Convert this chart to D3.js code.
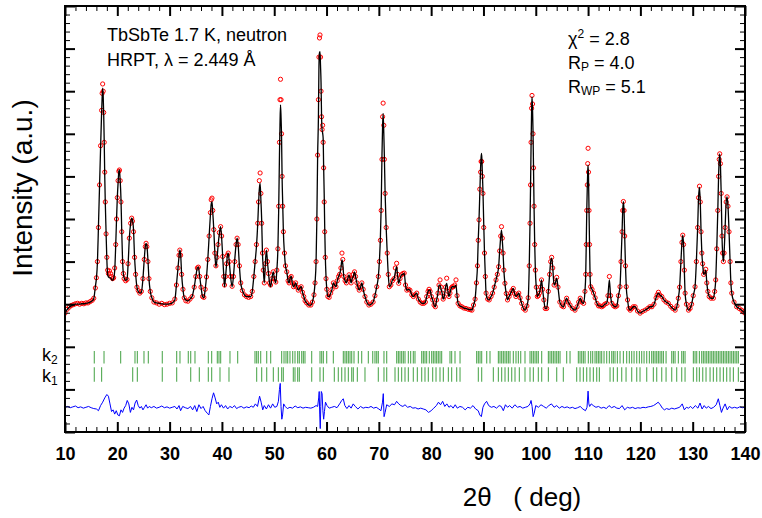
<!DOCTYPE html>
<html>
<head>
<meta charset="utf-8">
<script src="https://cdn.jsdelivr.net/npm/d3@7"></script>
<style>
  body { margin: 0; background: #fff; }
  text { font-family: "Liberation Sans", Arial, sans-serif; }
</style>
</head>
<body>
<svg id="chart" width="762" height="518"></svg>
<script>
// 2theta grid of the refinement (deg), observed and calculated intensity (a.u.)
const twoTheta = [
  10, 10.4, 10.8, 11.2, 11.6, 12, 12.4, 12.8, 13.2, 13.6, 14, 14.4, 14.8, 15.2, 15.5,
  15.8, 16, 16.2, 16.4, 16.6, 16.8, 17, 17.1, 17.2, 17.3, 17.4, 17.5, 17.6, 17.7, 17.85, 18, 18.15, 18.3,
  18.5, 18.7, 18.9, 19.1, 19.3, 19.5, 19.7, 19.85, 20, 20.15, 20.3, 20.4, 20.55, 20.7, 20.85, 21, 21.15, 21.3,
  21.6, 21.85, 22.05, 22.3, 22.55, 22.75, 22.9, 23.1, 23.3, 23.5, 23.75, 24, 24.3, 24.6, 24.9, 25.15, 25.35, 25.5, 25.65, 25.85, 26.05,
  26.3, 26.6, 27, 27.5, 28, 28.5, 29, 29.5, 30, 30.5, 31, 31.3, 31.6, 31.8, 31.95, 32.1, 32.3, 32.55, 32.8, 33.1,
  33.5, 33.9, 34.3, 34.7, 35, 35.3, 35.5, 35.75, 36, 36.3, 36.55, 36.8, 37.05, 37.3, 37.55, 37.8, 37.95, 38.1, 38.25, 38.45, 38.65, 38.85, 39.05, 39.25, 39.5, 39.75, 39.95, 40.15, 40.35, 40.5, 40.7, 40.9, 41.05,
  41.2, 41.4, 41.65, 41.95, 42.2, 42.45, 42.7, 42.9, 43.1, 43.35, 43.6, 43.9, 44.3, 44.7, 45.1, 45.5, 45.8, 46.1, 46.35, 46.6, 46.85, 47, 47.15, 47.3, 47.45, 47.6, 47.75, 47.9,
  48.1, 48.3, 48.5, 48.7, 48.9, 49.1, 49.3, 49.55, 49.8, 50.05, 50.3, 50.5, 50.7, 50.85, 51, 51.1, 51.2, 51.3, 51.4, 51.5, 51.62, 51.75, 51.95, 52.15,
  52.4, 52.65, 52.85, 53.05, 53.25, 53.45, 53.7, 53.9, 54.1, 54.35, 54.6, 54.9, 55.15, 55.4, 55.65, 55.9, 56.2, 56.6, 57, 57.3, 57.6, 57.8, 58, 58.15, 58.3,
  58.45, 58.55, 58.65, 58.75, 58.85, 58.95, 59.05, 59.15, 59.25, 59.35, 59.45, 59.55, 59.65, 59.75, 59.9, 60.05,
  60.25, 60.5, 60.8, 61.05, 61.3, 61.55, 61.8, 62.05, 62.3, 62.5, 62.75, 62.95, 63.1, 63.3, 63.55, 63.8, 64.05, 64.3, 64.5, 64.7, 64.9, 65.1, 65.35, 65.55, 65.8, 66,
  66.25, 66.5, 66.75, 67, 67.35, 67.7, 68.1, 68.5, 68.9, 69.25, 69.6, 69.9, 70.1, 70.3, 70.45, 70.6, 70.72, 70.82, 70.95, 71.05, 71.2, 71.4, 71.6, 71.8, 72,
  72.3, 72.6, 72.9, 73.15, 73.4, 73.6, 73.8, 74.05, 74.35, 74.6, 74.85, 75.1, 75.35, 75.65, 75.95, 76.3, 76.6, 76.9, 77.25, 77.55, 77.9, 78.25, 78.6, 78.9, 79.15, 79.4, 79.6, 79.8,
  80.05, 80.3, 80.55, 80.8, 81.05, 81.3, 81.5, 81.7, 81.9, 82.1, 82.3, 82.5, 82.75, 82.97, 83.2, 83.4, 83.6, 83.85, 84.05, 84.25, 84.5, 84.75, 84.95, 85.15, 85.5, 85.85, 86.25, 86.65, 87.1, 87.5, 87.8,
  88.1, 88.4, 88.65, 88.85, 89, 89.15, 89.3, 89.45, 89.55, 89.66, 89.78, 89.9, 90.05, 90.2, 90.35, 90.5, 90.8, 91.1, 91.45, 91.75, 92.05, 92.4, 92.65, 92.9, 93.1, 93.3, 93.45, 93.6, 93.75, 93.9, 94.1,
  94.35, 94.6, 94.9, 95.2, 95.45, 95.7, 95.95, 96.2, 96.5, 96.75, 97, 97.3, 97.65, 98, 98.3, 98.55, 98.75, 98.9, 99, 99.1, 99.2, 99.28, 99.38, 99.47, 99.57, 99.67, 99.8, 99.92, 100.1,
  100.3, 100.5, 100.7, 100.9, 101.1, 101.3, 101.55, 101.8, 102.1, 102.4, 102.65, 102.85, 103.04, 103.25, 103.5, 103.75, 104, 104.25, 104.6, 105, 105.3, 105.6, 105.9, 106.2, 106.55, 107, 107.5,
  107.9, 108.2, 108.5, 108.8, 109.15, 109.4, 109.55, 109.65, 109.75, 109.85, 109.93, 110, 110.08, 110.18, 110.28, 110.38, 110.5, 110.75, 111.05, 111.35, 111.7, 112, 112.3, 112.6, 112.9, 113.2, 113.55, 113.8,
  114.07, 114.3, 114.55, 114.9, 115.2, 115.5, 115.8, 116.1, 116.3, 116.5, 116.62, 116.75, 116.88, 117, 117.15, 117.3, 117.55, 117.8, 118.05, 118.35, 118.65, 119, 119.45, 119.95, 120.4, 120.9, 121.4, 121.8, 122.2, 122.6,
  123, 123.2, 123.45, 123.7, 124.1, 124.5, 124.9, 125.35, 125.8, 126.2, 126.65, 127, 127.25, 127.5, 127.75, 127.95, 128.1, 128.25, 128.4, 128.55, 128.8, 129.2, 129.5, 129.8, 130.1,
  130.45, 130.7, 130.95, 131.12, 131.3, 131.45, 131.6, 131.75, 131.9, 132.1, 132.3, 132.5, 132.7, 132.9, 133.15, 133.5, 133.95, 134.2, 134.4,
  134.6, 134.8, 134.95, 135.07, 135.17, 135.3, 135.45, 135.6, 135.72, 135.87, 136, 136.2, 136.4, 136.57, 136.75, 136.95, 137.15, 137.3, 137.47, 137.9, 138.4, 138.9, 139.35, 139.7, 140
];

const yObs = [
  279, 288, 293, 297, 299, 301, 302, 300, 302, 301, 303, 303, 306, 309, 314,
  338, 362, 400, 480, 580, 672, 755, 795, 817, 800, 750, 680, 610, 540, 465, 410, 380, 372,
  378, 372, 365, 360, 362, 385, 440, 500, 550, 590, 612, 615, 590, 540, 470, 400, 372, 360,
  355, 358, 395, 455, 490, 502, 495, 470, 410, 370, 340, 332, 326, 330, 360, 405, 435, 443, 435, 400, 360,
  330, 315, 305, 303, 300, 302, 299, 300, 302, 303, 312, 345, 385, 415, 427, 415, 370, 335, 315, 308,
  307, 312, 318, 340, 365, 385, 387, 365, 340, 318, 316, 335, 364, 405, 460, 515, 545, 549, 520, 475, 420, 390, 410, 440, 468, 482, 460, 412, 365, 345, 365, 395, 415,
  420, 400, 365, 342, 365, 400, 440, 455, 440, 390, 350, 332, 322, 318, 316, 318, 330, 365, 400, 440, 490, 540, 590, 608, 560, 490, 420, 380,
  350, 395, 427, 400, 372, 350, 345, 360, 376, 360, 352, 380, 430, 530, 680, 780, 828, 780, 700, 600, 530, 470, 420, 390,
  376, 355, 350, 362, 365, 350, 341, 345, 350, 340, 333, 338, 341, 328, 318, 308, 303, 298, 298, 305, 322, 350, 400, 500, 650,
  780, 880, 925, 932, 880, 800, 740, 710, 720, 680, 620, 540, 470, 410, 360, 335,
  318, 316, 326, 335, 350, 345, 341, 355, 365, 370, 385, 420, 405, 365, 355, 350, 360, 369, 360, 350, 360, 370, 376, 365, 350, 340,
  333, 340, 350, 335, 318, 305, 298, 300, 305, 320, 341, 365, 400, 450, 520, 640, 740, 772, 720, 640, 560, 480, 420, 370, 341,
  345, 355, 360, 385, 396, 370, 349, 360, 369, 372, 373, 345, 333, 335, 333, 322, 318, 322, 326, 312, 305, 302, 302, 305, 318, 330, 335, 330,
  318, 310, 298, 294, 310, 326, 345, 357, 340, 326, 312, 318, 340, 361, 330, 318, 326, 338, 341, 341, 345, 357, 320, 302, 296, 294, 291, 290, 288, 287, 286,
  298, 312, 350, 390, 450, 498, 570, 610, 635, 635, 600, 560, 480, 420, 365, 326, 312, 310, 318, 326, 340, 357, 370, 388, 425, 460, 482, 455, 420, 380, 349,
  325, 310, 318, 326, 332, 337, 325, 318, 322, 326, 315, 302, 290, 286, 296, 315, 390, 490, 580, 680, 760, 790, 770, 700, 620, 530, 440, 380, 340,
  318, 320, 326, 340, 357, 335, 310, 290, 290, 330, 370, 400, 410, 385, 345, 352, 363, 340, 305, 296, 294, 305, 314, 305, 298, 290, 286,
  294, 305, 314, 305, 302, 330, 370, 440, 520, 580, 630, 666, 610, 520, 440, 370, 341, 335, 326, 315, 302, 296, 296, 294, 296, 300, 302, 320,
  365, 320, 302, 296, 294, 296, 320, 341, 400, 470, 520, 541, 520, 460, 390, 341, 310, 290, 286, 290, 294, 294, 284, 279, 283, 286, 290, 294, 294, 300,
  315, 322, 328, 322, 318, 310, 305, 302, 295, 290, 286, 296, 314, 340, 400, 445, 462, 440, 380, 326, 300, 286, 290, 300, 320,
  341, 400, 480, 550, 577, 540, 470, 420, 395, 370, 375, 382, 350, 330, 318, 314, 314, 330, 357,
  430, 520, 600, 640, 653, 630, 560, 460, 420, 400, 420, 480, 540, 552, 530, 470, 400, 350, 326, 305, 294, 290, 286, 282, 279
];

const yCalc = [
  279, 287, 293, 296, 298, 300, 300, 300, 301, 301, 302, 303, 305, 308, 313,
  341, 360, 398, 485, 575, 665, 750, 785, 807, 790, 745, 680, 600, 540, 470, 405, 370, 364,
  362, 362, 358, 356, 360, 378, 440, 498, 550, 585, 612, 615, 590, 548, 470, 405, 372, 362,
  356, 358, 390, 455, 490, 502, 498, 474, 410, 372, 340, 330, 326, 328, 360, 405, 435, 443, 438, 405, 360,
  330, 315, 305, 303, 302, 301, 300, 300, 301, 303, 310, 345, 385, 412, 427, 418, 370, 335, 315, 310,
  308, 312, 318, 340, 364, 385, 387, 365, 341, 318, 315, 335, 364, 405, 458, 510, 535, 541, 515, 474, 420, 387, 405, 435, 465, 482, 455, 411, 368, 341, 365, 395, 415,
  420, 400, 365, 341, 365, 404, 440, 455, 440, 388, 350, 333, 322, 318, 318, 318, 330, 365, 400, 435, 490, 535, 570, 584, 545, 498, 420, 385,
  350, 395, 427, 400, 373, 350, 341, 360, 376, 360, 350, 380, 430, 520, 650, 720, 768, 740, 693, 600, 537, 470, 420, 390,
  376, 355, 350, 362, 365, 350, 341, 345, 350, 340, 333, 338, 341, 328, 318, 308, 303, 298, 298, 305, 324, 350, 400, 500, 650,
  740, 860, 890, 893, 860, 820, 740, 709, 702, 690, 620, 560, 482, 420, 365, 335,
  318, 318, 326, 335, 350, 345, 341, 355, 365, 370, 385, 404, 395, 365, 355, 350, 360, 369, 360, 350, 360, 365, 376, 365, 350, 340,
  333, 340, 350, 335, 318, 305, 298, 300, 305, 320, 341, 365, 400, 458, 530, 650, 720, 748, 700, 650, 560, 480, 420, 370, 341,
  345, 357, 360, 375, 388, 365, 349, 360, 369, 370, 373, 345, 333, 335, 333, 322, 318, 322, 326, 312, 306, 302, 302, 305, 318, 330, 333, 333,
  318, 310, 298, 294, 310, 326, 345, 345, 335, 326, 312, 318, 340, 349, 330, 318, 326, 338, 341, 341, 340, 345, 320, 302, 296, 294, 291, 290, 288, 287, 287,
  298, 312, 350, 388, 450, 498, 560, 620, 645, 654, 610, 568, 490, 420, 370, 326, 312, 310, 318, 326, 340, 357, 370, 388, 425, 458, 474, 450, 420, 380, 349,
  325, 310, 318, 326, 332, 337, 325, 318, 322, 326, 315, 302, 290, 286, 296, 312, 388, 490, 575, 670, 750, 787, 760, 709, 620, 529, 440, 380, 340,
  318, 322, 326, 340, 357, 335, 310, 290, 290, 330, 370, 400, 408, 385, 345, 350, 361, 340, 305, 296, 294, 305, 314, 305, 298, 290, 286,
  294, 305, 314, 305, 302, 330, 370, 440, 520, 575, 610, 627, 600, 520, 440, 370, 341, 335, 326, 315, 302, 296, 296, 294, 296, 300, 302, 320,
  357, 320, 302, 296, 294, 296, 320, 341, 400, 470, 520, 541, 520, 460, 390, 341, 310, 290, 286, 290, 294, 294, 284, 279, 283, 286, 290, 294, 294, 300,
  315, 322, 326, 322, 318, 310, 305, 302, 295, 290, 286, 296, 314, 340, 400, 445, 462, 440, 380, 326, 300, 286, 290, 300, 320,
  341, 400, 480, 550, 575, 540, 470, 420, 395, 370, 372, 380, 350, 330, 318, 314, 314, 330, 357,
  430, 520, 600, 640, 653, 630, 560, 460, 420, 400, 420, 480, 540, 552, 530, 470, 400, 350, 326, 305, 294, 290, 286, 282, 279
];

// difference curve (obs - calc, plotted with an offset)
const diffTth = [
  10, 10.5, 11, 11.5, 12, 12.5, 13, 13.5, 14, 14.5,
  15, 15.5, 16, 16.4, 16.8, 17.2, 17.6, 18, 18.3, 18.6,
  18.9, 19.2, 19.5, 19.8, 20.1, 20.4, 20.7, 21, 21.3, 21.6,
  21.9, 22.2, 22.5, 22.8, 23.1, 23.4, 23.7, 24, 24.3, 24.6,
  24.9, 25.2, 25.5, 25.8, 26.1, 26.5, 27, 27.5, 28, 28.5,
  29, 29.5, 30, 30.5, 31, 31.4, 31.8, 32.1, 32.5, 33,
  33.5, 34, 34.4, 34.8, 35.2, 35.6, 36, 36.4, 36.8, 37.2,
  37.5, 37.8, 38.1, 38.4, 38.7, 39, 39.3, 39.6, 39.9, 40.3,
  40.7, 41.1, 41.5, 42, 42.4, 42.8, 43.2, 43.7, 44.2, 44.7,
  45.2, 45.6, 46, 46.4, 46.8, 47.2, 47.5, 47.8, 48.1, 48.5,
  48.9, 49.3, 49.7, 50.1, 50.5, 50.8, 51, 51.15, 51.3, 51.45,
  51.6, 51.8, 52.1, 52.5, 53, 53.5, 54, 54.5, 55, 55.5,
  56, 56.5, 57, 57.5, 58, 58.3, 58.5, 58.6, 58.7, 58.8,
  58.9, 59, 59.15, 59.3, 59.45, 59.6, 59.8, 60.1, 60.5, 61,
  61.5, 62, 62.5, 62.9, 63.2, 63.5, 63.9, 64.3, 64.7, 65.1,
  65.5, 66, 66.5, 67, 67.5, 68, 68.5, 69, 69.5, 70,
  70.4, 70.7, 70.85, 71, 71.2, 71.5, 72, 72.5, 73, 73.4,
  73.8, 74.2, 74.6, 75, 75.5, 76, 76.5, 77, 77.5, 78,
  78.5, 79, 79.5, 80, 80.5, 81, 81.4, 81.8, 82.2, 82.6,
  83, 83.4, 83.8, 84.2, 84.6, 85, 85.5, 86, 86.5, 87,
  87.5, 88, 88.5, 89, 89.3, 89.6, 89.9, 90.2, 90.6, 91,
  91.5, 92, 92.5, 93, 93.4, 93.8, 94.2, 94.6, 95, 95.5,
  96, 96.5, 97, 97.5, 98, 98.5, 98.9, 99.1, 99.3, 99.5,
  99.7, 100, 100.5, 101, 101.5, 102, 102.5, 103, 103.5, 104,
  104.5, 105, 105.5, 106, 106.5, 107, 107.5, 108, 108.5, 109,
  109.5, 109.8, 110, 110.15, 110.3, 110.6, 111, 111.5, 112, 112.5,
  113, 113.5, 114, 114.5, 115, 115.5, 116, 116.5, 117, 117.5,
  118, 118.5, 119, 119.5, 120, 120.5, 121, 121.5, 122, 122.5,
  123, 123.4, 123.8, 124.2, 124.6, 125, 125.5, 126, 126.5, 127,
  127.5, 128, 128.4, 128.8, 129.2, 129.6, 130, 130.5, 131, 131.4,
  131.8, 132.2, 132.6, 133, 133.5, 134, 134.5, 134.9, 135.2, 135.5,
  135.8, 136.2, 136.6, 137, 137.5, 138, 138.5, 139, 139.5, 140
];

const diffI = [
  58, 60, 57, 59, 61, 57, 59, 56, 58, 60,
  57, 55, 54, 50, 62, 70, 80, 88, 84, 66,
  48, 52, 42, 50, 40, 38, 52, 46, 56, 62,
  74, 66, 46, 58, 52, 68, 75, 62, 56, 60,
  52, 58, 64, 56, 60, 57, 60, 56, 58, 61,
  57, 59, 56, 58, 60, 54, 62, 50, 60, 57,
  55, 60, 52, 62, 48, 64, 55, 60, 50, 44,
  40, 60, 78, 92, 80, 66, 70, 58, 64, 56,
  62, 54, 60, 57, 62, 55, 58, 60, 56, 59,
  57, 61, 58, 66, 60, 84, 70, 52, 62, 54,
  64, 56, 66, 58, 60, 72, 100, 114, 60, 30,
  40, 66, 60, 55, 58, 56, 61, 57, 59, 56,
  58, 57, 56, 58, 62, 60, 80, 95, 40, 8,
  60, 95, 90, 50, 30, 48, 70, 62, 56, 58,
  60, 57, 66, 74, 78, 62, 55, 62, 56, 66,
  60, 54, 60, 56, 58, 57, 60, 56, 58, 54,
  50, 70, 90, 36, 46, 64, 60, 66, 64, 72,
  66, 62, 60, 64, 58, 60, 56, 57, 54, 56,
  54, 52, 46, 50, 56, 62, 70, 64, 72, 60,
  66, 58, 62, 56, 64, 56, 60, 58, 52, 58,
  56, 62, 54, 50, 40, 36, 58, 66, 72, 62,
  58, 60, 56, 62, 60, 50, 64, 58, 62, 56,
  64, 58, 60, 56, 58, 60, 66, 74, 60, 36,
  44, 62, 58, 64, 60, 56, 62, 66, 58, 62,
  56, 60, 57, 59, 56, 58, 55, 57, 60, 54,
  50, 58, 96, 66, 60, 66, 62, 58, 60, 56,
  58, 55, 62, 57, 60, 56, 55, 62, 52, 58,
  56, 58, 55, 57, 56, 58, 57, 59, 60, 62,
  66, 70, 64, 56, 52, 55, 53, 56, 54, 56,
  58, 66, 52, 58, 56, 60, 55, 62, 56, 68,
  54, 62, 56, 60, 55, 58, 64, 78, 62, 46,
  56, 66, 52, 60, 56, 58, 56, 59, 57, 58
];

// Bragg reflection positions of the two propagation vectors (deg)
const k2Pos = [
  15.6, 17.46, 20.64, 23.38, 23.83, 25.1, 25.93, 28.6, 31.35, 31.98, 33.57, 34.03, 34.85, 37.4, 38.04, 39.12, 39.44, 39.76,
  41.54, 43.01, 46.32, 46.64, 46.96, 47.41, 48.56, 49.32, 51.42, 51.87, 52.25, 52.57, 53.01, 53.53, 53.97, 54.48, 54.8,
  55.25, 55.57, 55.88, 57.16, 58.75, 59.07, 59.39, 60.03, 61.3, 63.21, 63.53, 63.85, 64.17, 64.49, 64.81, 65.25, 66.08,
  66.72, 67.99, 68.83, 69.26, 69.59, 69.9, 70.98, 71.5, 73.41, 73.73, 74.04, 74.36, 74.68, 75, 75.64, 76.08, 76.59, 76.91,
  78.19, 78.51, 78.82, 79.14, 79.65, 80.1, 80.42, 80.74, 81.05, 81.37, 81.69, 82.01, 83.6, 83.92, 84.56, 85.52, 88.7,
  89.02, 89.34, 89.66, 90.62, 91.25, 92.85, 93.16, 93.48, 93.8, 94.12, 94.44, 94.76, 95.08, 95.71, 96.22, 96.67, 97.12,
  97.94, 98.9, 99.22, 99.54, 99.86, 100.18, 100.49, 101.13, 102.41, 102.72, 103.04, 103.36, 103.68, 104, 104.32, 104.64,
  105.91, 106.55, 108.14, 108.46, 108.78, 109.1, 109.42, 110.05, 110.5, 110.88, 111.33, 111.65, 111.97, 112.28, 112.6,
  113.05, 113.56, 114.07, 114.52, 114.83, 115.15, 115.6, 116.11, 116.75, 117.38, 117.89, 118.34, 118.79, 119.3, 119.81,
  120.25, 120.7, 121.21, 121.72, 122.16, 122.48, 122.8, 123.12, 123.44, 123.76, 124.08, 124.4, 124.91, 125.99, 126.31,
  126.63, 127.26, 127.9, 128.22, 128.54, 130.13, 130.45, 130.77, 131.28, 131.72, 132.04, 132.36, 132.68, 133, 133.32,
  133.64, 133.95, 134.27, 134.59, 134.91, 135.23, 135.55, 135.87, 136.19, 136.5, 136.82, 137.14, 137.46, 137.78, 138.1,
  138.42, 138.73
];

const k1Pos = [
  15.6, 17, 22.94, 23.83, 28.6, 31.35, 34.03, 35.68, 37.4, 38.04, 39.63, 41.35, 46.64, 47.6, 48.56, 49.83, 50.79, 51.42,
  51.74, 53.65, 53.97, 54.48, 54.8, 57.16, 58.75, 59.39, 61.49, 62.25, 62.9, 63.53, 64.17, 64.81, 65.12, 65.89, 67.35,
  69.9, 70.98, 71.5, 73.09, 73.73, 74.36, 75, 75.64, 76.59, 77.36, 78.19, 78.82, 79.46, 80.29, 80.93, 81.69, 82.33,
  83.29, 83.92, 84.88, 85.52, 89.02, 89.66, 91.89, 92.85, 93.48, 94.12, 94.76, 95.4, 96.03, 96.86, 97.94, 98.9, 99.54,
  100.49, 101.13, 102.41, 104, 105.27, 107.82, 108.46, 109.1, 109.74, 110.37, 111.01, 111.65, 112.16, 114.2, 114.83,
  115.6, 116.43, 117.26, 118.34, 119.3, 119.93, 121.21, 122.48, 123.12, 124.08, 124.91, 125.99, 126.94, 127.9, 128.54,
  130.13, 130.77, 131.28, 131.92, 132.55, 133.32, 133.95, 134.59, 135.23, 135.87, 136.5, 137.14, 137.78, 138.73
];

const xMajor = d3.range(10, 141, 10);
const xMinor = d3.range(10, 141, 2).filter(v => v % 10 !== 0);
const yMajor = d3.range(0, 1001, 100);
const yMinor = d3.range(0, 1001, 20).filter(v => v % 100 !== 0);

const font = '"Liberation Sans", Arial, sans-serif';
const plotL = 65, plotR = 745, plotT = 6, plotB = 432;

const x = d3.scaleLinear().domain([10, 140]).range([plotL, plotR]);
const y = d3.scaleLinear().domain([0, 1000]).range([plotB, plotT]);

const svg = d3.select("#chart");

svg.append("defs").append("clipPath").attr("id", "plot-clip")
  .append("rect")
  .attr("x", plotL).attr("y", plotT)
  .attr("width", plotR - plotL).attr("height", plotB - plotT);

const plot = svg.append("g").attr("clip-path", "url(#plot-clip)");

// reflection ticks
const rows = [
  { pos: k2Pos, y0: 190, y1: 161 },
  { pos: k1Pos, y0: 152, y1: 118 }
];
rows.forEach(row => {
  plot.append("g")
    .selectAll("line")
    .data(row.pos)
    .join("line")
    .attr("x1", d => x(d))
    .attr("x2", d => x(d))
    .attr("y1", y(row.y0))
    .attr("y2", y(row.y1))
    .attr("stroke", "#1a8c1a")
    .attr("stroke-opacity", 0.75)
    .attr("stroke-width", 1.1);
});

// difference curve
const diffLine = d3.line()
  .x((d, i) => x(diffTth[i]))
  .y(d => y(d));

plot.append("path")
  .datum(diffI)
  .attr("fill", "none")
  .attr("stroke", "#0000ff")
  .attr("stroke-width", 1)
  .attr("d", diffLine);

// observed points
plot.append("g")
  .selectAll("circle")
  .data(yObs)
  .join("circle")
  .attr("cx", (d, i) => x(twoTheta[i]))
  .attr("cy", d => y(d))
  .attr("r", 2.1)
  .attr("fill", "none")
  .attr("stroke", "#ff0000")
  .attr("stroke-width", 1);

// calculated profile
const calcLine = d3.line()
  .curve(d3.curveMonotoneX)
  .x((d, i) => x(twoTheta[i]))
  .y(d => y(d));

plot.append("path")
  .datum(yCalc)
  .attr("fill", "none")
  .attr("stroke", "#000")
  .attr("stroke-width", 1.3)
  .attr("d", calcLine);

// axes: ticks point inward on all four sides
function ticks(axis, transform, values, size, sw, labels) {
  const g = svg.append("g")
    .attr("transform", transform)
    .call(axis.tickValues(values).tickSize(size).tickPadding(15)
      .tickFormat(labels ? d3.format("d") : ""));
  g.select(".domain").remove();
  g.selectAll("line").attr("stroke", "#000").attr("stroke-width", sw);
  g.attr("font-family", font).attr("font-size", 18).attr("font-weight", "bold");
  return g;
}

ticks(d3.axisBottom(x), `translate(0,${plotB})`, xMajor, -10, 2, true);
ticks(d3.axisBottom(x), `translate(0,${plotB})`, xMinor, -5, 1, false);
ticks(d3.axisTop(x), `translate(0,${plotT})`, xMajor, -10, 2, false);
ticks(d3.axisTop(x), `translate(0,${plotT})`, xMinor, -5, 1, false);
ticks(d3.axisLeft(y), `translate(${plotL},0)`, yMajor, -10, 2, false);
ticks(d3.axisLeft(y), `translate(${plotL},0)`, yMinor, -5, 1, false);
ticks(d3.axisRight(y), `translate(${plotR},0)`, yMajor, -10, 2, false);
ticks(d3.axisRight(y), `translate(${plotR},0)`, yMinor, -5, 1, false);

svg.append("rect")
  .attr("x", plotL).attr("y", plotT)
  .attr("width", plotR - plotL).attr("height", plotB - plotT)
  .attr("fill", "none")
  .attr("stroke", "#000")
  .attr("stroke-width", 2);

// axis titles
svg.append("text")
  .attr("transform", "translate(32,188) rotate(-90)")
  .attr("text-anchor", "middle")
  .attr("font-size", 28)
  .text("Intensity (a.u.)");

svg.append("text")
  .attr("x", 522).attr("y", 506)
  .attr("text-anchor", "middle")
  .attr("font-size", 26)
  .style("white-space", "pre")
  .text("2θ   ( deg)");

// annotations
svg.append("text").attr("x", 107).attr("y", 41).attr("font-size", 18)
  .text("TbSbTe 1.7 K, neutron");
svg.append("text").attr("x", 107).attr("y", 66).attr("font-size", 18)
  .text("HRPT, λ = 2.449 Å");

function withScript(xPos, yPos, main, script, rest, shift) {
  const t = svg.append("text").attr("x", xPos).attr("y", yPos).attr("font-size", 18)
    .style("white-space", "pre");
  t.append("tspan").text(main);
  t.append("tspan").attr("font-size", 12).attr("dy", shift).text(script);
  t.append("tspan").attr("dy", -shift).text(rest);
}

withScript(568, 45, "χ", "2", " = 2.8", -7);
withScript(568, 69, "R", "P", " = 4.0", 2);
withScript(568, 93, "R", "WP", " = 5.1", 2);

withScript(42, 361, "k", "2", "", 3);
withScript(42, 382, "k", "1", "", 3);
</script>
</body>
</html>
